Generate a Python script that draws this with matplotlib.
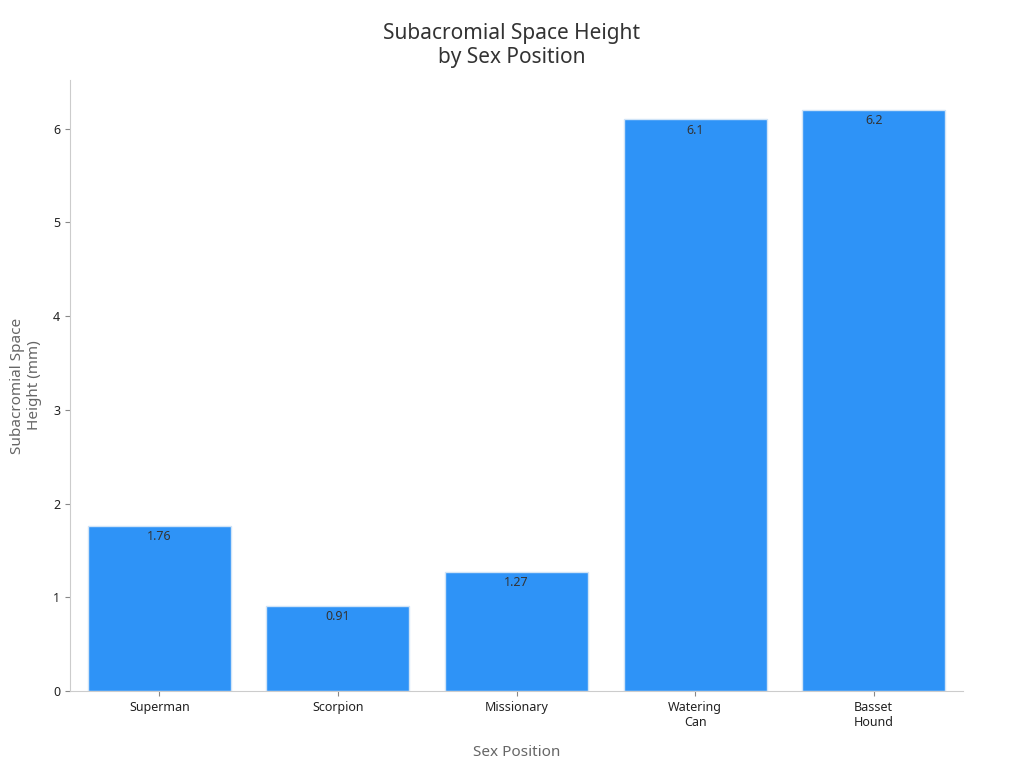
import matplotlib
matplotlib.use("Agg")
import matplotlib.pyplot as plt

categories = ["Superman", "Scorpion", "Missionary", "Watering\nCan", "Basset\nHound"]
values = [1.76, 0.91, 1.27, 6.1, 6.2]
labels = ["1.76", "0.91", "1.27", "6.1", "6.2"]

plt.rcParams['font.family'] = ['Noto Sans', 'DejaVu Sans']
fig = plt.figure(figsize=(10.24, 7.68), dpi=100)
ax = fig.add_axes([70/1024, 1-691/768, (963-70)/1024, (691-80)/768])
x = range(len(categories))
bars = ax.bar(x, values, width=0.8, color="#2E93F7", edgecolor="#d0e4f7", linewidth=1)
for b, l in zip(bars, labels):
    ax.annotate(l, (b.get_x()+b.get_width()/2, b.get_height()), xytext=(0, -3),
                textcoords="offset points", ha="center", va="top", fontsize=9, color="#333333")
ax.set_xlim(-0.5, 4.5)
ax.set_ylim(0, 6.52)
ax.set_xticks(list(x))
ax.set_xticklabels(categories, fontsize=9, color="#222222")
ax.tick_params(axis='y', labelsize=9, colors="#222222")
ax.tick_params(axis='both', color="#888888")
for s in ["top", "right"]:
    ax.spines[s].set_visible(False)
for s in ["left", "bottom"]:
    ax.spines[s].set_color("#cccccc")
ax.set_xlabel("Sex Position", fontsize=11, color="#666666", labelpad=12)
ax.set_ylabel("Subacromial Space\nHeight (mm)", fontsize=11, color="#666666", labelpad=8)
fig.suptitle("Subacromial Space Height\nby Sex Position", fontsize=15, color="#333333", y=0.97)
fig.savefig("out.png", dpi=100)
